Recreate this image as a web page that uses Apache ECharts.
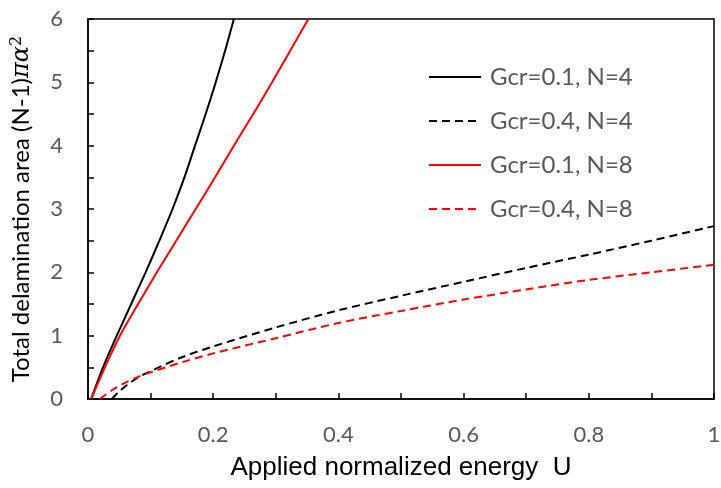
<!DOCTYPE html>
<html>
<head>
<meta charset="utf-8">
<script src="https://cdn.jsdelivr.net/npm/echarts@6/dist/echarts.min.js"></script>
<style>html,body{margin:0;padding:0;background:#fff}#c{width:721px;height:488px}</style>
</head>
<body>
<div id="c"></div>
<script>
var seriesNames = ['Gcr=0.1, N=4', 'Gcr=0.4, N=4', 'Gcr=0.1, N=8', 'Gcr=0.4, N=8'];
var gcr01N4 = [[0.005,0],[0.024,0.5],[0.046,1.0],[0.069,1.5],[0.092,2.0],[0.114,2.5],[0.135,3.0],[0.154,3.5],[0.171,4.0],[0.188,4.5],[0.204,5.0],[0.219,5.5],[0.233,6.0]];
var gcr04N4 = [[0.038,0],[0.05,0.12],[0.065,0.24],[0.08,0.34],[0.1,0.44],[0.15,0.66],[0.2,0.83],[0.3,1.13],[0.4,1.4],[0.5,1.63],[0.6,1.85],[0.7,2.07],[0.8,2.28],[0.9,2.5],[1.0,2.73]];
var gcr01N8 = [[0.005,0],[0.027,0.5],[0.051,1.0],[0.08,1.5],[0.11,2.0],[0.141,2.5],[0.172,3.0],[0.203,3.5],[0.233,4.0],[0.264,4.5],[0.294,5.0],[0.323,5.5],[0.352,6.0]];
var gcr04N8 = [[0.019,0],[0.04,0.15],[0.06,0.26],[0.08,0.35],[0.1,0.42],[0.15,0.58],[0.2,0.72],[0.3,0.96],[0.4,1.2],[0.5,1.39],[0.6,1.57],[0.7,1.73],[0.8,1.88],[0.9,2.0],[1.0,2.12]];
var xTickLabels = ['0','0.2','0.4','0.6','0.8','1'];
var yTickLabels = ['0','1','2','3','4','5','6'];

var chart = echarts.init(document.getElementById('c'));
var FONT = 'Lato, "Liberation Sans", sans-serif';
function mk(name, data, color, dash) {
  return {
    name: name, type: 'line', data: data, symbol: 'none', showSymbol: false, smooth: 0.3,
    lineStyle: { color: color, width: 2, type: dash ? [8, 5] : 'solid' },
    itemStyle: { color: color }
  };
}
chart.setOption({
  animation: false,
  backgroundColor: '#fff',
  grid: { left: 88, right: 7, top: 19, bottom: 89, containLabel: false, outerBoundsMode: 'none', show: true, borderColor: '#000', borderWidth: 1.5 },
  legend: {
    orient: 'vertical', left: 423, top: 60, itemGap: 20, itemWidth: 52, itemHeight: 24,
    itemStyle: { opacity: 0 },
    textStyle: { color: '#595959', fontSize: 24, lineHeight: 24, fontFamily: FONT, padding: [0, 0, 0, 4] },
    data: seriesNames
  },
  xAxis: {
    type: 'value', min: 0, max: 1, interval: 0.1,
    name: 'Applied normalized energy  U', nameLocation: 'middle', nameGap: 56,
    nameTextStyle: { color: '#000', fontSize: 26, fontFamily: '"Liberation Sans", Arial, sans-serif' },
    axisLine: { lineStyle: { color: '#000', width: 1.5 } },
    axisTick: { inside: true, length: 6, lineStyle: { color: '#000', width: 1.5 } },
    axisLabel: {
      color: '#595959', fontSize: 22, fontFamily: FONT, margin: 25,
      formatter: function (v) {
        var k = Math.round(v * 10);
        return k % 2 === 0 ? xTickLabels[k / 2] : '';
      }
    },
    splitLine: { show: false }
  },
  yAxis: {
    type: 'value', min: 0, max: 6, interval: 0.5,
    name: 'Total delamination area (N-1){i|πα}{s|2}', nameLocation: 'middle', nameGap: 54, nameRotate: 90,
    nameTextStyle: {
      color: '#000', fontSize: 24, fontFamily: FONT,
      rich: {
        i: { fontSize: 24, fontStyle: 'italic', fontFamily: '"DejaVu Serif", serif', color: '#000' },
        s: { fontSize: 16, verticalAlign: 'top', fontFamily: '"DejaVu Serif", serif', color: '#000', padding: [0, 0, 9, 0] }
      }
    },
    axisLine: { lineStyle: { color: '#000', width: 1.5 } },
    axisTick: { inside: true, length: 6, lineStyle: { color: '#000', width: 1.5 } },
    axisLabel: {
      color: '#595959', fontSize: 22, fontFamily: FONT, margin: 25,
      formatter: function (v) {
        var k = Math.round(v * 2);
        return k % 2 === 0 ? yTickLabels[k / 2] : '';
      }
    },
    splitLine: { show: false }
  },
  series: [
    mk(seriesNames[0], gcr01N4, '#000000', false),
    mk(seriesNames[1], gcr04N4, '#000000', true),
    mk(seriesNames[2], gcr01N8, '#ff0000', false),
    mk(seriesNames[3], gcr04N8, '#ff0000', true)
  ]
});
</script>
</body>
</html>
